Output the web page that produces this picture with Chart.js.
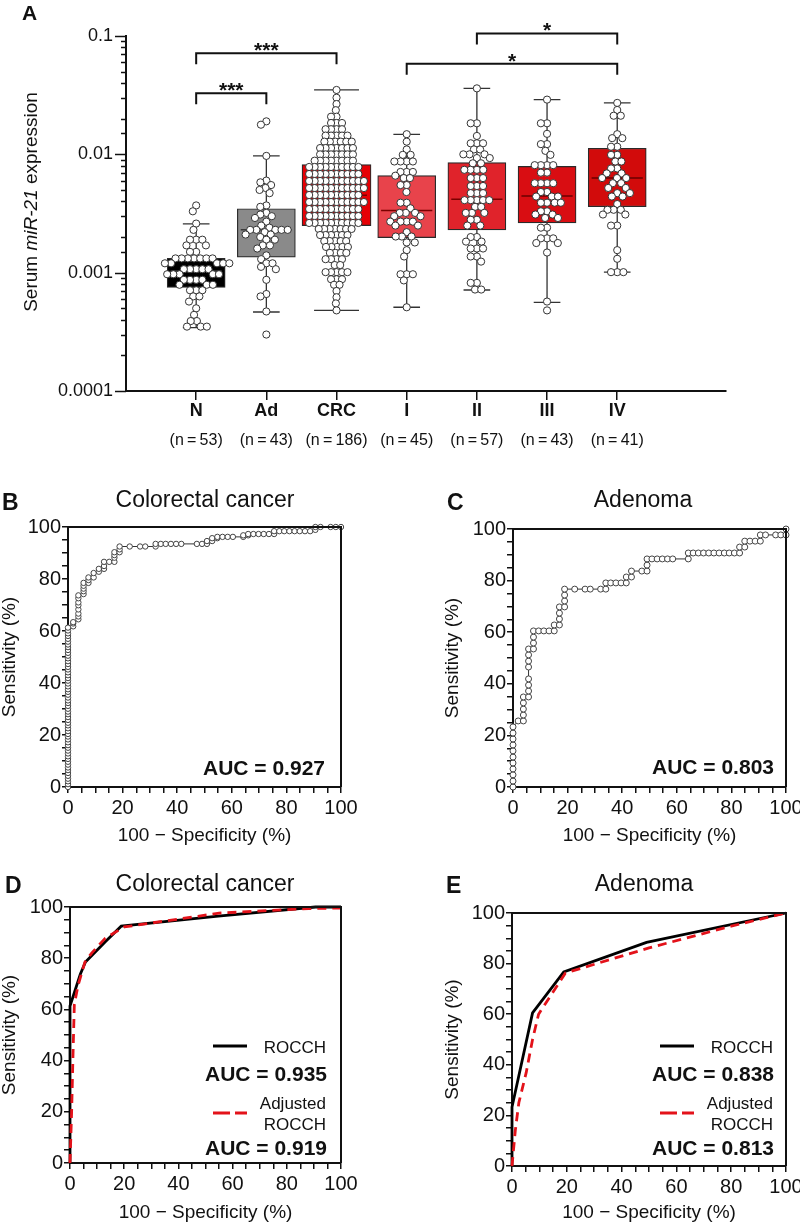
<!DOCTYPE html>
<html>
<head>
<meta charset="utf-8">
<script src="https://cdn.jsdelivr.net/npm/chart.js@4.4.1/dist/chart.umd.min.js"></script>
<style>
  html, body { margin: 0; padding: 0; background: #fff; overflow: hidden; }
  #page { position: relative; width: 800px; height: 1225px; overflow: hidden;
          font-family: 'Liberation Sans', Arial, Helvetica, sans-serif; color: #111; }
  canvas { position: absolute; }
  .t { position: absolute; white-space: nowrap; line-height: 1; }
</style>
</head>
<body>
<div id="page"></div>
<script>
// --- Panel A: serum miR-21 per group ---
const groups = ['N', 'Ad', 'CRC', 'I', 'II', 'III', 'IV'];
const groupN = [53, 43, 186, 45, 57, 43, 41];
const boxQ1 = [0.00075, 0.00135, 0.0025, 0.00198, 0.0023, 0.00263, 0.00361];
const boxMedian = [0.00103, 0.0023, 0.0045, 0.00336, 0.00417, 0.00445, 0.0063];
const boxQ3 = [0.00132, 0.00347, 0.0082, 0.0066, 0.0085, 0.0079, 0.01125];
const whiskerLow = [0.000343, 0.000465, 0.00048, 0.00051, 0.000714, 0.00056, 0.00101];
const whiskerHigh = [0.00258, 0.0097, 0.035, 0.01476, 0.0361, 0.029, 0.0272];
const boxColors = ['#000000', '#8a8a8a', '#e60005', '#e8434b', '#e0232b', '#d90d12', '#d20b0b'];
const medianColors = ['#555555', '#3a3a3a', '#7a0000', '#7a0000', '#7a0000', '#6a0000', '#6a0000'];

const valsN = [0.0037, 0.0033, 0.0026, 0.0023, 0.0019, 0.0019, 0.0019, 0.0017, 0.0017, 0.0015, 0.0015,
  0.00132, 0.00132, 0.00132, 0.00132, 0.00132, 0.00132, 0.00132, 0.0012, 0.0012, 0.0012, 0.0012, 0.0012,
  0.00107, 0.00107, 0.00107, 0.00107, 0.00107, 0.00097, 0.00097, 0.00097, 0.00097, 0.00097,
  0.00087, 0.00087, 0.00087, 0.00087, 0.00079, 0.00079, 0.00079,
  0.00071, 0.00071, 0.00071, 0.00063, 0.00063, 0.00057, 0.0005, 0.00044, 0.00039, 0.00039,
  0.00035, 0.00035, 0.00035];
const valsAd = [0.019, 0.0178, 0.0097, 0.006, 0.0058, 0.0055, 0.0052, 0.005, 0.0047,
  0.0037, 0.0036, 0.0032, 0.0031, 0.003, 0.0029, 0.0027, 0.0025, 0.0024,
  0.0023, 0.0023, 0.0023, 0.0023, 0.0023, 0.0022, 0.0021, 0.0021, 0.002, 0.0019, 0.0019,
  0.0017, 0.0017, 0.0016, 0.0014, 0.0013, 0.0012, 0.0012, 0.00112, 0.00107,
  0.00087, 0.00066, 0.00063, 0.00047, 0.0003];
const valsCRC = [0.035, 0.0301, 0.0266, 0.0236, 0.0208, 0.0208,
  0.0184, 0.0184, 0.0184, 0.0163, 0.0163, 0.0163, 0.0163,
  0.0144, 0.0144, 0.0144, 0.0144, 0.0144, 0.0128, 0.0128, 0.0128, 0.0128, 0.0128, 0.0128,
  0.0113, 0.0113, 0.0113, 0.0113, 0.0113, 0.0113, 0.0113,
  0.00999, 0.00999, 0.00999, 0.00999, 0.00999, 0.00999, 0.00999,
  0.00884, 0.00884, 0.00884, 0.00884, 0.00884, 0.00884, 0.00884, 0.00884,
  0.00782, 0.00782, 0.00782, 0.00782, 0.00782, 0.00782, 0.00782, 0.00782, 0.00782, 0.00782,
  0.00682, 0.00682, 0.00682, 0.00682, 0.00682, 0.00682, 0.00682, 0.00682, 0.00682, 0.00682,
  0.00595, 0.00595, 0.00595, 0.00595, 0.00595, 0.00595, 0.00595, 0.00595, 0.00595, 0.00595, 0.00595,
  0.00519, 0.00519, 0.00519, 0.00519, 0.00519, 0.00519, 0.00519, 0.00519, 0.00519, 0.00519, 0.00519,
  0.00453, 0.00453, 0.00453, 0.00453, 0.00453, 0.00453, 0.00453, 0.00453, 0.00453, 0.00453,
  0.00395, 0.00395, 0.00395, 0.00395, 0.00395, 0.00395, 0.00395, 0.00395, 0.00395, 0.00395, 0.00395,
  0.00345, 0.00345, 0.00345, 0.00345, 0.00345, 0.00345, 0.00345, 0.00345, 0.00345, 0.00345,
  0.00301, 0.00301, 0.00301, 0.00301, 0.00301, 0.00301, 0.00301, 0.00301, 0.00301, 0.00301,
  0.00263, 0.00263, 0.00263, 0.00263, 0.00263, 0.00263, 0.00263, 0.00263, 0.00263, 0.00263,
  0.00234, 0.00234, 0.00234, 0.00234, 0.00234, 0.00234, 0.00234,
  0.00208, 0.00208, 0.00208, 0.00208, 0.00208, 0.00208,
  0.00185, 0.00185, 0.00185, 0.00185, 0.00185, 0.00165, 0.00165, 0.00165, 0.00165, 0.00165,
  0.00147, 0.00147, 0.00147, 0.00147, 0.0013, 0.0013, 0.0013, 0.0013, 0.00116, 0.00116,
  0.00101, 0.00101, 0.00101, 0.00101, 0.00101, 0.00088, 0.00088, 0.00088, 0.00079, 0.00079,
  0.0007, 0.00062, 0.00055, 0.00048];
const valsI = [0.0148, 0.0128, 0.011, 0.0099, 0.0099, 0.0087, 0.0087, 0.0087, 0.0087,
  0.0071, 0.0071, 0.0071, 0.0066, 0.0063, 0.0063, 0.0055, 0.0055, 0.0048, 0.0039, 0.0039,
  0.0035, 0.0032, 0.0032, 0.0032, 0.003, 0.003, 0.0027, 0.0027, 0.0027, 0.0027, 0.0025, 0.0025,
  0.0022, 0.00202, 0.00202, 0.00202, 0.0018, 0.0018, 0.00155, 0.00137,
  0.00097, 0.00097, 0.00097, 0.00086, 0.00051];
const valsII = [0.0361, 0.0183, 0.0183, 0.0143, 0.0124, 0.0124, 0.0124, 0.011, 0.011,
  0.01, 0.01, 0.01, 0.0093, 0.0093, 0.0084, 0.0084, 0.0074, 0.0074, 0.0074, 0.0074,
  0.0063, 0.0063, 0.0063, 0.0054, 0.0054, 0.0054, 0.0047, 0.0047, 0.0047,
  0.0041, 0.0041, 0.0041, 0.0041, 0.0041, 0.0036, 0.0036, 0.0032, 0.0032, 0.0032,
  0.0028, 0.0028, 0.0025, 0.0025, 0.002, 0.002, 0.00183, 0.00183,
  0.0016, 0.0016, 0.0016, 0.00137, 0.00137, 0.00124, 0.00082, 0.00082, 0.00072, 0.00072];
const valsIII = [0.029, 0.0183, 0.0183, 0.0149, 0.0122, 0.0122, 0.0107, 0.0099,
  0.0081, 0.0081, 0.0081, 0.0081, 0.007, 0.007, 0.0057, 0.0057, 0.0057, 0.0057,
  0.0048, 0.0048, 0.0044, 0.0044, 0.0044, 0.0039, 0.0039, 0.0039, 0.0039,
  0.0033, 0.0033, 0.0031, 0.0031, 0.0029, 0.0029, 0.0024, 0.0024,
  0.00195, 0.00195, 0.00195, 0.00178, 0.00178, 0.00148, 0.00057, 0.00048];
const valsIV = [0.0272, 0.0237, 0.0212, 0.0212, 0.0148, 0.0137, 0.0137, 0.0116, 0.0116,
  0.0099, 0.0099, 0.0087, 0.0087, 0.0076, 0.0076, 0.0069, 0.0069, 0.0063, 0.0063, 0.0063,
  0.0057, 0.0057, 0.0052, 0.0052, 0.0047, 0.0047, 0.0044, 0.0044, 0.0038,
  0.0034, 0.0034, 0.0034, 0.0031, 0.0031, 0.0025, 0.0025, 0.00155, 0.00131,
  0.00101, 0.00101, 0.00101];
const groupValues = [valsN, valsAd, valsCRC, valsI, valsII, valsIII, valsIV];

// significance brackets: from group, to group, level, label
const bracketFrom = [0, 0, 3, 4];
const bracketTo = [1, 2, 6, 6];
const bracketLevel = [0.0328, 0.0714, 0.0583, 0.105];
const bracketLabel = ['***', '***', '*', '*'];

// --- Panels B/C: empirical ROC points [100 - specificity, sensitivity] ---
const rocCrc = [[0,0],[0,1.1],[0,2.2],[0,3.2],[0,4.3],[0,5.4],[0,6.5],[0,7.5],[0,8.6],[0,9.7],
  [0,10.8],[0,11.8],[0,12.9],[0,14],[0,15.1],[0,16.1],[0,17.2],[0,18.3],[0,19.4],[0,20.4],
  [0,21.5],[0,22.6],[0,23.7],[0,24.7],[0,25.8],[0,26.9],[0,28],[0,29],[0,30.1],[0,31.2],
  [0,32.3],[0,33.3],[0,34.4],[0,35.5],[0,36.6],[0,37.6],[0,38.7],[0,39.8],[0,40.9],[0,41.9],
  [0,43],[0,44.1],[0,45.2],[0,46.2],[0,47.3],[0,48.4],[0,49.5],[0,50.5],[0,51.6],[0,52.7],
  [0,53.8],[0,54.8],[0,55.9],[0,57],[0,58.1],[0,59.1],[0,60.2],[0,61.3],
  [1.9,61.8],[1.9,62.9],[1.9,63.4],
  [3.8,64.5],[3.8,65.6],[3.8,66.7],[3.8,68.3],[3.8,69.9],[3.8,71],[3.8,72.6],[3.8,73.7],
  [5.7,74.2],[5.7,75.3],[5.7,76.3],[5.7,77.4],[5.7,78.5],
  [7.5,78.5],[7.5,79.6],[7.5,80.6],[9.4,80.6],[9.4,82.3],[11.3,82.8],[11.3,83.9],
  [13.2,83.9],[13.2,85],[13.2,86.6],[15.1,86.6],[17,86.6],[17,88.2],[17,89.2],[17,90.3],
  [18.9,90.3],[18.9,91.4],[18.9,92.5],[22.6,92.5],[26.4,92.5],[28.3,92.5],[32.1,92.5],
  [32.1,93.5],[34,93.5],[35.8,93.5],[37.7,93.5],[39.6,93.5],[41.5,93.5],[47.2,93.5],[49.1,93.5],[50.9,93.5],
  [50.9,94.6],[52.8,94.6],[52.8,95.7],[54.7,95.7],[54.7,96.2],
  [56.6,96.2],[58.5,96.2],[60.4,96.2],[64.2,96.2],[64.2,96.8],[66,96.8],[66,97.3],
  [67.9,97.3],[69.8,97.3],[71.7,97.3],[73.6,97.3],[75.5,97.3],
  [75.5,98.4],[77.4,98.4],[79.2,98.4],[81.1,98.4],[83,98.4],[84.9,98.4],[86.8,98.4],[88.7,98.4],
  [90.6,98.9],[90.6,100],[92.5,100],[96.2,100],[98.1,100],[100,100]];
const rocAd = [[0,0],[0,2.3],[0,4.7],[0,7],[0,9.3],[0,11.6],[0,14],[0,16.3],[0,18.6],[0,20.9],[0,23.3],
  [1.9,25.6],[3.8,25.6],[3.8,27.9],[3.8,30.2],[3.8,32.6],[3.8,34.9],
  [5.7,34.9],[5.7,37.2],[5.7,39.5],[5.7,41.9],[5.7,46.5],[5.7,48.8],[5.7,51.2],[5.7,53.5],
  [7.5,53.5],[7.5,55.8],[7.5,58.1],[7.5,60.5],[9.4,60.5],[11.3,60.5],[13.2,60.5],[15.1,60.5],
  [15.1,62.8],[17,62.8],[17,65.1],[17,67.4],[17,69.8],[18.9,69.8],[18.9,72.1],[18.9,74.4],[18.9,76.7],
  [22.6,76.7],[26.4,76.7],[28.3,76.7],[32.1,76.7],[34,76.7],
  [34,79.1],[35.8,79.1],[37.7,79.1],[39.6,79.1],[41.5,79.1],
  [41.5,81.4],[43.4,81.4],[43.4,83.7],[47.2,83.7],[49.1,83.7],[49.1,86],[49.1,88.4],
  [50.9,88.4],[52.8,88.4],[54.7,88.4],[56.6,88.4],[58.5,88.4],[64.2,88.4],
  [64.2,90.7],[66,90.7],[67.9,90.7],[69.8,90.7],[71.7,90.7],[73.6,90.7],[75.5,90.7],
  [77.4,90.7],[79.2,90.7],[81.1,90.7],[83,90.7],
  [83,93],[84.9,93],[84.9,95.3],[86.8,95.3],[88.7,95.3],[90.6,95.3],
  [90.6,97.7],[92.5,97.7],[96.2,97.7],[98.1,97.7],[100,97.7],[100,100]];

// --- Panels D/E: ROC convex hulls ---
const hullCrc = [[0,0],[0,61.3],[3.8,73.7],[5.7,78.5],[13.2,86.6],[18.9,92.5],[54.7,96.4],[90.6,100],[100,100]];
const hullCrcAdj = [[0,0],[0.6,20],[1.1,42],[1.6,62],[3,69.5],[5.5,78.5],[8,82],[13,87.8],[20,92.2],[55,97.6],[88,99.4],[100,99.6]];
const hullAd = [[0,0],[0,23.3],[7.5,60.5],[18.9,76.7],[49.1,88.4],[100,100]];
const hullAdAdj = [[0,0],[1.2,14],[2.5,25],[5.2,37],[7.5,50],[9.7,60],[19.5,76.3],[50,86.2],[80,94.8],[100,100]];
const aucLabels = ['AUC = 0.927', 'AUC = 0.803', 'AUC = 0.935', 'AUC = 0.919', 'AUC = 0.838', 'AUC = 0.813'];

// --- Setup ---
const FONT = "'Liberation Sans', Arial, Helvetica, sans-serif";
Chart.defaults.font.family = FONT;
Chart.defaults.color = '#111';
const page = document.getElementById('page');

function makeCanvas(left, top, w, h) {
    const c = document.createElement('canvas');
    c.width = w; c.height = h;
    c.style.left = left + 'px'; c.style.top = top + 'px';
    c.style.width = w + 'px'; c.style.height = h + 'px';
    page.appendChild(c);
    return c;
}

function addText(html, x, baseline, size, align, bold) {
    const el = document.createElement('div');
    el.className = 't';
    el.innerHTML = html;
    el.style.fontSize = size + 'px';
    el.style.fontWeight = bold ? 'bold' : 'normal';
    el.style.left = x + 'px';
    el.style.top = (baseline - 0.8465 * size) + 'px';
    const shift = align === 'right' ? -100 : align === 'center' ? -50 : 0;
    el.style.transform = 'translateX(' + shift + '%)';
    page.appendChild(el);
    return el;
}

function addLegendLine(x1, x2, y, color, dash) {
    const svg = document.createElementNS('http://www.w3.org/2000/svg', 'svg');
    svg.setAttribute('width', x2 - x1); svg.setAttribute('height', 6);
    svg.style.position = 'absolute'; svg.style.left = x1 + 'px'; svg.style.top = (y - 3) + 'px';
    const ln = document.createElementNS('http://www.w3.org/2000/svg', 'line');
    ln.setAttribute('x1', 0); ln.setAttribute('x2', x2 - x1);
    ln.setAttribute('y1', 3); ln.setAttribute('y2', 3);
    ln.setAttribute('stroke', color); ln.setAttribute('stroke-width', 3);
    if (dash) ln.setAttribute('stroke-dasharray', dash);
    svg.appendChild(ln);
    page.appendChild(svg);
}

// beeswarm offsets (in category units) so circles do not pile up
const DECADE_PX = 118.3, UNIT_PX = 79.5;
function swarmOffsets(values, dot) {
    const pts = values.map((v, i) => ({ i, y: Math.log10(v) * DECADE_PX }));
    pts.sort((a, b) => b.y - a.y);
    const placed = [];
    const out = new Array(values.length);
    pts.forEach(p => {
        const near = placed.filter(q => Math.abs(q.y - p.y) < dot);
        const cands = [0];
        near.forEach(q => {
            const w = Math.sqrt(dot * dot - (q.y - p.y) ** 2);
            cands.push(q.x - w, q.x + w);
        });
        cands.sort((a, b) => Math.abs(a) - Math.abs(b));
        const x = cands.find(c => near.every(q => (q.x - c) ** 2 + (q.y - p.y) ** 2 >= dot * dot - 1e-6));
        placed.push({ x, y: p.y });
        out[p.i] = x / UNIT_PX;
    });
    return out;
}

// --- Panel A chart ---
const whiskerPts = [];
const medianPts = [];
groups.forEach((g, i) => {
    const cap = i === 2 ? 0.32 : 0.19;
    const half = i === 2 ? 0.434 : 0.365;
    whiskerPts.push({ x: i, y: whiskerLow[i] }, { x: i, y: whiskerHigh[i] }, { x: i, y: null });
    whiskerPts.push({ x: i - cap, y: whiskerHigh[i] }, { x: i + cap, y: whiskerHigh[i] }, { x: i, y: null });
    whiskerPts.push({ x: i - cap, y: whiskerLow[i] }, { x: i + cap, y: whiskerLow[i] }, { x: i, y: null });
    medianPts.push({ x: i - half, y: boxMedian[i] }, { x: i + half, y: boxMedian[i] }, { x: i, y: null });
});
const dotPts = [];
groupValues.forEach((vals, i) => {
    const offs = swarmOffsets(vals, i === 2 ? 6.2 : 7.0);
    vals.forEach((v, k) => dotPts.push({ x: i + offs[k], y: v }));
});
const boxData = groups.map((g, i) => ({ x: i, y: [boxQ1[i], boxQ3[i]] }));

const panelADecor = {
    id: 'panelADecor',
    afterDraw(chart) {
        const { ctx } = chart;
        const xs = chart.scales.x, ys = chart.scales.y;
        ctx.save();
        ctx.strokeStyle = '#111';
        ctx.lineWidth = 1.5;
        ys.ticks.forEach(t => {
            const py = Math.round(ys.getPixelForValue(t.value)) + 0.5;
            const l = Math.log10(t.value);
            const major = Math.abs(l - Math.round(l)) < 1e-6;
            ctx.beginPath();
            ctx.moveTo(ys.right - (major ? 11 : 5), py);
            ctx.lineTo(ys.right, py);
            ctx.stroke();
        });
        ctx.lineWidth = 2;
        ctx.fillStyle = '#111';
        ctx.font = 'bold 21px ' + FONT;
        ctx.textAlign = 'center';
        ctx.textBaseline = 'alphabetic';
        bracketFrom.forEach((from, k) => {
            const x1 = xs.getPixelForValue(from), x2 = xs.getPixelForValue(bracketTo[k]);
            const y = ys.getPixelForValue(bracketLevel[k]);
            ctx.beginPath();
            ctx.moveTo(x1, y + 11); ctx.lineTo(x1, y); ctx.lineTo(x2, y); ctx.lineTo(x2, y + 11);
            ctx.stroke();
            ctx.fillText(bracketLabel[k], (x1 + x2) / 2, y + 4);
        });
        ctx.restore();
    }
};

const chartA = new Chart(makeCanvas(0, 0, 800, 460), {
    type: 'bar',
    data: {
        datasets: [
            { type: 'scatter', data: dotPts, order: 0, pointRadius: 3.6, pointBackgroundColor: '#fff',
              pointBorderColor: '#333', pointBorderWidth: 1, clip: false },
            { type: 'line', data: medianPts, order: 1, pointRadius: 0, borderWidth: 1.5, spanGaps: false,
              segment: { borderColor: c => medianColors[Math.floor(c.p0DataIndex / 3)] } },
            { type: 'bar', data: boxData.filter(d => d.x !== 2), order: 2, grouped: false, barThickness: 58,
              backgroundColor: c => boxColors[c.raw.x], borderColor: '#2a2a2a', borderWidth: 1.2, borderSkipped: false },
            { type: 'bar', data: boxData.filter(d => d.x === 2), order: 2, grouped: false, barThickness: 69,
              backgroundColor: c => boxColors[c.raw.x], borderColor: '#2a2a2a', borderWidth: 1.2, borderSkipped: false },
            { type: 'line', data: whiskerPts, order: 3, pointRadius: 0, borderWidth: 1.3, borderColor: '#333', spanGaps: false }
        ]
    },
    options: {
        responsive: false, animation: false, events: [],
        layout: { padding: { left: 0, right: 74, top: 36, bottom: 0 } },
        plugins: { legend: { display: false }, tooltip: { enabled: false } },
        scales: {
            x: {
                type: 'linear', min: -1, max: 7.55, offset: false,
                afterBuildTicks: s => { s.ticks = groups.map((g, i) => ({ value: i })); },
                afterFit: s => { s.height = 69; },
                ticks: { autoSkip: false, maxRotation: 0, padding: 0, font: { size: 18, weight: 'bold' },
                         color: '#111', callback: v => groups[v] },
                grid: { display: true, drawOnChartArea: false, drawTicks: true, tickLength: 9,
                        color: '#111', lineWidth: 1.5, offset: false },
                border: { display: true, color: '#111', width: 2 }
            },
            y: {
                type: 'logarithmic', min: 0.0001, max: 0.1,
                afterFit: s => { s.width = 126; },
                ticks: { autoSkip: false, padding: 13, font: { size: 18 }, color: '#111',
                         callback: v => {
                             const l = Math.log10(v);
                             return Math.abs(l - Math.round(l)) < 1e-6 ? v.toFixed(-Math.round(l)) : '';
                         } },
                grid: { display: false, drawTicks: false },
                border: { display: true, color: '#111', width: 2 }
            }
        }
    },
    plugins: [panelADecor]
});

// --- ROC panels ---
const frame = {
    id: 'frame',
    afterDraw(chart) {
        const { ctx, chartArea: a } = chart;
        ctx.save();
        ctx.strokeStyle = '#111';
        ctx.lineWidth = 2;
        ctx.beginPath();
        ctx.moveTo(a.left, a.top); ctx.lineTo(a.right, a.top); ctx.lineTo(a.right, a.bottom);
        ctx.stroke();
        ctx.restore();
    }
};

function rocAxis(extra) {
    return Object.assign({
        type: 'linear', min: 0, max: 100,
        ticks: { stepSize: 5, maxTicksLimit: 21, autoSkip: false, maxRotation: 0, font: { size: 20 }, color: '#111',
                 callback: v => (v % 20 === 0 ? v : '') },
        grid: { display: true, drawOnChartArea: false, drawTicks: true, tickLength: 6, color: '#111', lineWidth: 1.5 },
        border: { display: true, color: '#111', width: 2 }
    }, extra);
}

function rocChart(left, top, w, h, pad, yW, xH, datasets) {
    const xAxis = rocAxis({
        title: { display: true, text: '100 \u2212 Specificity (%)', font: { size: 19 }, padding: 0, color: '#111' },
        afterFit: s => { s.height = xH; }
    });
    xAxis.ticks.padding = 3;
    const yAxis = rocAxis({
        title: { display: true, text: 'Sensitivity (%)', font: { size: 19, lineHeight: 1 }, padding: 0, color: '#111' },
        afterFit: s => { s.width = yW; }
    });
    yAxis.ticks.padding = 1;
    return new Chart(makeCanvas(left, top, w, h), {
        type: 'scatter',
        data: { datasets },
        options: {
            responsive: false, animation: false, events: [],
            layout: { padding: pad },
            plugins: { legend: { display: false }, tooltip: { enabled: false } },
            scales: { x: xAxis, y: yAxis }
        },
        plugins: [frame]
    });
}

const toXY = pairs => pairs.map(p => ({ x: p[0], y: p[1] }));
function rocPointsSet(pairs, r) {
    return { data: toXY(pairs), showLine: true, borderColor: '#333', borderWidth: 1,
             pointRadius: r, pointBackgroundColor: '#fff', pointBorderColor: '#444', pointBorderWidth: 1, clip: false };
}
function hullSets(solid, dashed) {
    return [
        { data: toXY(dashed), showLine: true, order: 0, borderColor: '#e3121a', borderWidth: 2.8,
          borderDash: [9, 6], pointRadius: 0, clip: false },
        { data: toXY(solid), showLine: true, order: 1, borderColor: '#000', borderWidth: 2.8, pointRadius: 0, clip: false }
    ];
}

rocChart(0, 470, 400, 377, { left: 0, right: 59, top: 57, bottom: 0 }, 68, 60, [rocPointsSet(rocCrc, 2.7)]);
rocChart(400, 470, 430, 377, { left: 43, right: 44, top: 59, bottom: 0 }, 70, 60, [rocPointsSet(rocAd, 3)]);
rocChart(0, 860, 400, 364, { left: 0, right: 59, top: 47, bottom: 0 }, 70, 61, hullSets(hullCrc, hullCrcAdj));
rocChart(400, 860, 430, 364, { left: 43, right: 44, top: 53, bottom: 0 }, 69, 58, hullSets(hullAd, hullAdAdj));

// --- Text annotations ---
addText('A', 22, 20, 21, 'left', true);
groups.forEach((g, i) => {
    addText('(n\u2009=\u2009' + groupN[i] + ')', chartA.scales.x.getPixelForValue(i), 446, 16, 'center', false);
});
const yTitle = document.createElement('div');
yTitle.className = 't';
yTitle.innerHTML = 'Serum <i>miR-21</i> expression';
yTitle.style.fontSize = '19px';
yTitle.style.left = '30px';
yTitle.style.top = '202px';
yTitle.style.transform = 'translate(-50%, -50%) rotate(-90deg)';
page.appendChild(yTitle);

addText('B', 2, 510, 23, 'left', true);
addText('Colorectal cancer', 205, 507, 23, 'center', false);
addText('C', 447, 510, 23, 'left', true);
addText('Adenoma', 643, 507, 23, 'center', false);
addText(aucLabels[0], 325, 775, 21, 'right', true);
addText(aucLabels[1], 774, 774, 21, 'right', true);

addText('D', 5, 893, 23, 'left', true);
addText('Colorectal cancer', 205, 891, 23, 'center', false);
addText('E', 446, 893, 23, 'left', true);
addText('Adenoma', 644, 891, 23, 'center', false);

// legends in D and E
[[213, 326, 2], [660, 773, 4]].forEach(([lx, rx, k]) => {
    addLegendLine(lx, lx + 34, 1045.7, '#000', null);
    addText('ROCCH', rx, 1053, 17, 'right', false);
    addText(aucLabels[k], rx + 1, 1081, 21, 'right', true);
    addLegendLine(lx, lx + 34, 1113.3, '#e3121a', '17 5');
    addText('Adjusted', rx, 1109, 17, 'right', false);
    addText('ROCCH', rx, 1130, 17, 'right', false);
    addText(aucLabels[k + 1], rx + 1, 1155, 21, 'right', true);
});
</script>
</body>
</html>
